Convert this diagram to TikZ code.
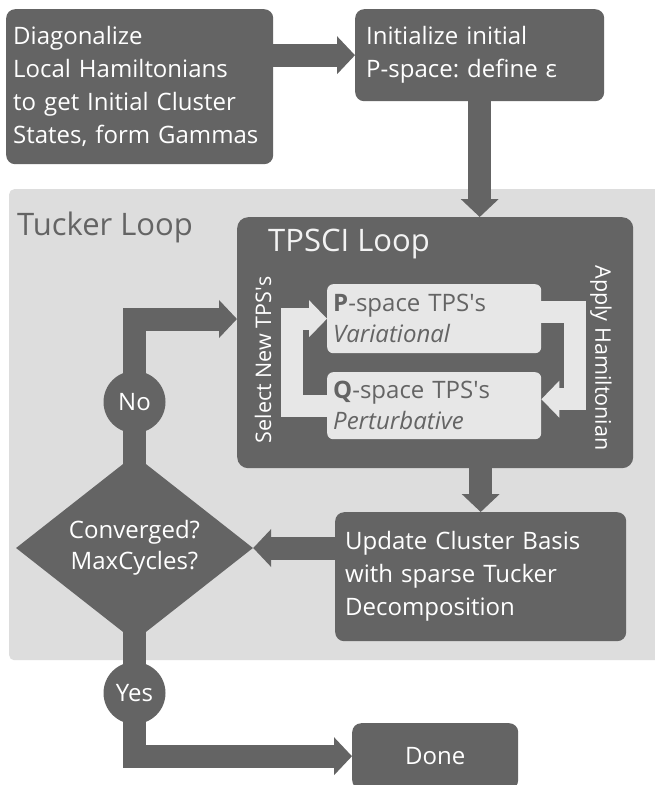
\documentclass[tikz,border=0pt]{standalone}
\usepackage{fontspec}
\setmainfont{Open Sans}
\frenchspacing
\usetikzlibrary{shapes.geometric,arrows.meta,calc}
\definecolor{darkbox}{HTML}{646464}
\definecolor{loopbg}{HTML}{DDDDDD}
\definecolor{lightbox}{HTML}{E7E7E7}
\pgfdeclarelayer{back}
\pgfdeclarelayer{links}
\pgfsetlayers{back,links,main}
\newcommand\tpsapos{\textquotesingle}
\tikzset{
  dbox/.style={fill=darkbox, text=white, rounded corners=9pt, anchor=north west,
    align=left, inner ysep=0pt, font=\fontsize{24pt}{33pt}\selectfont},
  lbox/.style={fill=lightbox, text=darkbox, rounded corners=6pt, anchor=north west,
    align=left, inner ysep=0pt, inner xsep=6pt, text width=202pt, minimum width=214pt,
    font=\fontsize{24pt}{31pt}\selectfont},
  answer/.style={circle, fill=darkbox, text=white, minimum size=62pt, inner sep=0pt,
    font=\fontsize{24pt}{30pt}\selectfont},
  sidelbl/.style={text=white, inner sep=0pt, font=\fontsize{21.5pt}{26pt}\selectfont},
  looplbl/.style={anchor=base west, inner sep=0pt, font=\fontsize{31pt}{36pt}\selectfont},
  flow/.style={draw=darkbox, line width=23pt, -{Triangle[length=18pt,width=37pt]}},
  lflow/.style={draw=lightbox, line width=22pt, -{Triangle[length=18pt,width=36pt]}},
}
\begin{document}
\begin{tikzpicture}[x=1pt,y=-1pt]
  \useasboundingbox (0,0) rectangle (655,785);
  \begin{pgfonlayer}{back}
    \fill[white] (0,0) rectangle (655,785);
    \node[fill=loopbg, rounded corners=5pt, anchor=north west, minimum width=660pt,
      minimum height=471pt, inner sep=0pt] (tucker) at (9,189) {};
    \node[fill=darkbox, rounded corners=11pt, anchor=north west, minimum width=396pt,
      minimum height=251pt, inner sep=0pt] (tpsci) at (237,217) {};
  \end{pgfonlayer}
  % boxes of the flow
  \node[dbox, inner xsep=7pt, text width=253pt, minimum height=155pt] (diag) at (6,9)
    {Diagonalize\\Local Hamiltonians\\to get Initial Cluster\\States, form Gammas};
  \node[dbox, inner xsep=11pt, text width=227pt, minimum height=92pt] (init) at (355,9)
    {Initialize initial\\P-space: define ε};
  \node[looplbl, text=darkbox] (tuckerlbl) at (17,235) {Tucker Loop};
  \node[looplbl, text=white!92!darkbox] (tpscilbl) at (268,251) {TPSCI Loop};
  \node[lbox, minimum height=69pt] (pbox) at (327,284)
    {\textbf{P}-space TPS\tpsapos s\\\textit{Variational}};
  \node[lbox, minimum height=67pt] (qbox) at (327,372)
    {\textbf{Q}-space TPS\tpsapos s\\\textit{Perturbative}};
  \node[sidelbl, rotate=90] (selnew) at (263,360) {Select New TPS\tpsapos s};
  \node[sidelbl, rotate=-90] (applyh) at (601,358) {Apply Hamiltonian};
  \node[dbox, inner xsep=10pt, text width=271pt, minimum height=129pt] (upd) at (335,512)
    {Update Cluster Basis\\with sparse Tucker\\Decomposition};
  \node[diamond, fill=darkbox, text=white, minimum width=237pt, minimum height=129pt,
    inner sep=0pt, align=center, font=\fontsize{24pt}{31pt}\selectfont] (conv) at (134.5,548)
    {Converged?\\MaxCycles?};
  \node[answer] (no) at (134.5,402) {No};
  \node[answer] (yes) at (134.5,693) {Yes};
  \node[dbox, align=center, minimum width=166pt, minimum height=66pt] (done) at (352,723) {Done};
  \coordinate (noin) at (237,319);
  % connectors
  \begin{pgfonlayer}{links}
    \draw[flow] (diag.east |- init.west) -- (init.west);
    \draw[flow] (init.south) -- (init.south |- tpsci.north);
    \draw[flow] (tpsci.south -| upd.north) -- (upd.north);
    \draw[flow] (upd.west |- conv.east) -- (conv.east);
    \draw[flow] (conv.center) -- (no.center) |- (noin);
    \draw[flow] (conv.center) -- (yes.center) |- (done.west);
    \draw[lflow] ($(pbox.east)+(0,-6.5)$) -- ++(34,0) |- ($(qbox.east)+(0,-6.5)$);
    \draw[lflow] (qbox.west) -- ++(-35,0) |- (pbox.west);
  \end{pgfonlayer}
\end{tikzpicture}
\end{document}
